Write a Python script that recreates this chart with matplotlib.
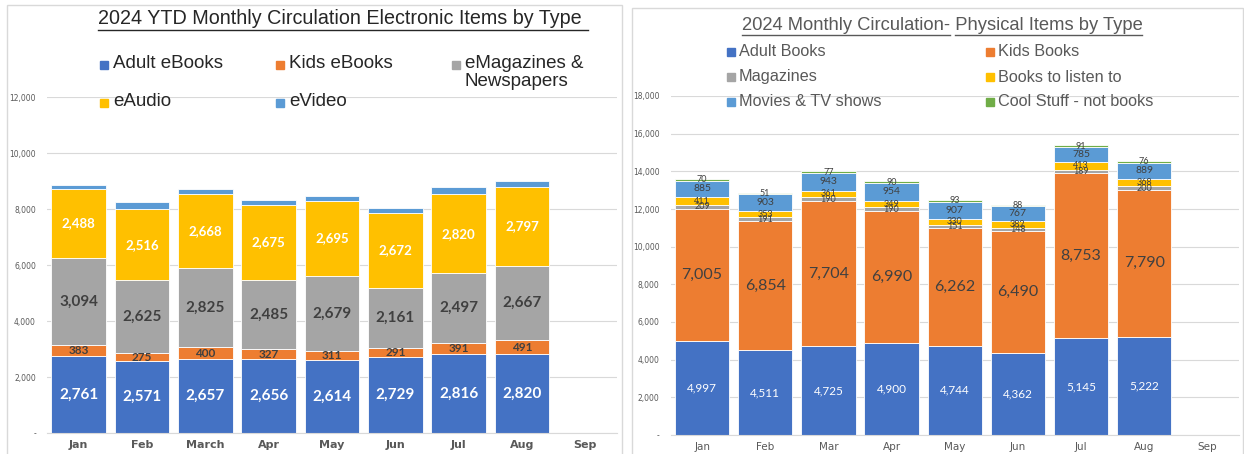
import matplotlib.pyplot as plt
import numpy as np
from matplotlib.patches import Rectangle
from matplotlib.lines import Line2D
from matplotlib.ticker import FuncFormatter

# Electronic items (left chart)
e_months = ['Jan', 'Feb', 'March', 'Apr', 'May', 'Jun', 'Jul', 'Aug', 'Sep']
adult_ebooks = [2761, 2571, 2657, 2656, 2614, 2729, 2816, 2820]
kids_ebooks = [383, 275, 400, 327, 311, 291, 391, 491]
emagazines = [3094, 2625, 2825, 2485, 2679, 2161, 2497, 2667]
eaudio = [2488, 2516, 2668, 2675, 2695, 2672, 2820, 2797]
evideo = [140, 260, 150, 190, 150, 190, 270, 240]  # estimated, not labelled

# Physical items (right chart)
p_months = ['Jan', 'Feb', 'Mar', 'Apr', 'May', 'Jun', 'Jul', 'Aug', 'Sep']
adult_books = [4997, 4511, 4725, 4900, 4744, 4362, 5145, 5222]
kids_books = [7005, 6854, 7704, 6990, 6262, 6490, 8753, 7790]
magazines = [209, 191, 190, 190, 151, 148, 189, 200]
books_listen = [411, 353, 361, 349, 330, 382, 413, 368]
movies_tv = [885, 903, 943, 954, 907, 767, 785, 889]
cool_stuff = [70, 51, 77, 90, 93, 88, 91, 76]

BLUE, ORANGE, GRAY, GOLD, LBLUE, GREEN = '#4472C4', '#ED7D31', '#A5A5A5', '#FFC000', '#5B9BD5', '#70AD47'
DARK = '#404040'
W, H = 1244, 454

fig = plt.figure(figsize=(W / 100, H / 100), dpi=100)
fig.patch.set_facecolor('white')


def px(x0, y0, x1, y1):
    # pixel box (top-left origin) -> figure fraction rect
    return [x0 / W, 1 - y1 / H, (x1 - x0) / W, (y1 - y0) / H]


# panel frames
for x0, y0, x1, y1 in [(7, 5, 622, 460), (632, 8, 1243, 460)]:
    fig.patches.append(Rectangle((x0 / W, 1 - y1 / H), (x1 - x0) / W, (y1 - y0) / H,
                                 transform=fig.transFigure, fill=False,
                                 edgecolor='#D9D9D9', linewidth=1))

yfmt = FuncFormatter(lambda v, p: '-' if v == 0 else f'{v:,.0f}')


def style_axes(ax, ymax, step, xlab_kw):
    ax.set_ylim(0, ymax)
    ax.set_xlim(-0.5, 8.5)
    ax.set_yticks(np.arange(0, ymax + 1, step))
    ax.yaxis.set_major_formatter(yfmt)
    ax.grid(axis='y', color='#D9D9D9', linewidth=0.8)
    ax.set_axisbelow(True)
    for s in ['top', 'right', 'left']:
        ax.spines[s].set_visible(False)
    ax.spines['bottom'].set_color('#D9D9D9')
    ax.tick_params(axis='both', length=0)
    ax.tick_params(axis='y', labelsize=5.5, labelcolor='#595959', pad=8)
    ax.tick_params(axis='x', pad=5)
    for t in ax.get_xticklabels():
        t.set(**xlab_kw)


# ---- left chart ----
ax1 = fig.add_axes(px(47, 97, 617, 433))
x = np.arange(len(adult_ebooks))
series1 = [(adult_ebooks, BLUE, 'Adult eBooks'), (kids_ebooks, ORANGE, 'Kids eBooks'),
           (emagazines, GRAY, 'eMagazines &\nNewspapers'), (eaudio, GOLD, 'eAudio'),
           (evideo, LBLUE, 'eVideo')]
label1 = [dict(color='white', fontsize=11, fontweight='bold'),
          dict(color=DARK, fontsize=8.5, fontweight='bold'),
          dict(color=DARK, fontsize=11, fontweight='bold'),
          dict(color='white', fontsize=9.5, fontweight='bold'),
          None]
bottom = np.zeros(len(x))
for (vals, col, name), lk in zip(series1, label1):
    bars = ax1.bar(x, vals, 0.86, bottom=bottom, color=col, edgecolor='white', linewidth=0.6)
    if lk:
        ax1.bar_label(bars, fmt='{:,.0f}', label_type='center', family='Lato', **lk)
    bottom += np.array(vals)
ax1.set_xticks(np.arange(9))
ax1.set_xticklabels(e_months)
style_axes(ax1, 12000, 2000, dict(fontsize=8, fontweight='bold', color='#595959'))

# left legend (placed manually, row-major like the source)
leg1_pos = [(104, 65), (280, 65), (456, 65), (104, 103), (280, 103)]
for (vals, col, name), (lx, ly) in zip(series1, leg1_pos):
    fig.patches.append(Rectangle(((lx - 4) / W, 1 - (ly + 4) / H), 8 / W, 8 / H,
                                 transform=fig.transFigure, color=col))
    fig.text((lx + 9) / W, 1 - (ly - 10) / H, name, fontsize=13.5, color='#262626',
             family='Liberation Sans', va='top', ha='left', linespacing=1.1)

# ---- right chart ----
ax2 = fig.add_axes(px(670.5, 96, 1239, 435))
series2 = [(adult_books, BLUE, 'Adult Books'), (kids_books, ORANGE, 'Kids Books'),
           (magazines, GRAY, 'Magazines'), (books_listen, GOLD, 'Books to listen to'),
           (movies_tv, LBLUE, 'Movies & TV shows'), (cool_stuff, GREEN, 'Cool Stuff - not books')]
label2 = [dict(color='white', fontsize=8.5), dict(color=DARK, fontsize=11.5),
          dict(color=DARK, fontsize=6.5), dict(color=DARK, fontsize=6.5),
          dict(color=DARK, fontsize=7.5), dict(color=DARK, fontsize=6.5)]
bottom = np.zeros(len(x))
for (vals, col, name), lk in zip(series2, label2):
    bars = ax2.bar(x, vals, 0.86, bottom=bottom, color=col, edgecolor='white', linewidth=0.6)
    ax2.bar_label(bars, fmt='{:,.0f}', label_type='center', family='Lato', **lk)
    bottom += np.array(vals)
ax2.set_xticks(np.arange(9))
ax2.set_xticklabels(p_months)
style_axes(ax2, 18000, 2000, dict(fontsize=7.5, color='#595959'))

leg2_pos = [(731, 52), (990, 52), (731, 77), (990, 77), (731, 102), (990, 102)]
for (vals, col, name), (lx, ly) in zip(series2, leg2_pos):
    fig.patches.append(Rectangle(((lx - 4) / W, 1 - (ly + 4) / H), 8 / W, 8 / H,
                                 transform=fig.transFigure, color=col))
    fig.text((lx + 8) / W, 1 - ly / H, name, fontsize=11.7, color='#595959',
             family='Liberation Sans', va='center', ha='left')

# ---- titles with underline ----
t1 = fig.text(340 / W, 1 - 19 / H, '2024 YTD Monthly Circulation Electronic Items by Type',
              fontsize=14.2, color='#262626', family='Liberation Sans', ha='center', va='center')
t2_full = '2024 Monthly Circulation- Physical Items by Type'
t2 = fig.text(942 / W, 1 - 25 / H, t2_full, fontsize=13.2, color='#595959',
              family='Liberation Sans', ha='center', va='center')

fig.canvas.draw()
r = fig.canvas.get_renderer()


def underline(t, x0, x1, col):
    bb = t.get_window_extent(r)
    y = bb.y0 - 1
    fig.add_artist(Line2D([x0 / W, x1 / W], [y / H, y / H], transform=fig.transFigure,
                          color=col, linewidth=1))


bb1 = t1.get_window_extent(r)
underline(t1, bb1.x0, bb1.x1 + 6, '#262626')

bb2 = t2.get_window_extent(r)
tmp = fig.text(0, 0, '2024 Monthly Circulation-', fontsize=13.2, family='Liberation Sans')
w_a = tmp.get_window_extent(r).width
tmp.set_text('2024 Monthly Circulation- P')
w_b = tmp.get_window_extent(r).width
tmp.set_text('P')
w_p = tmp.get_window_extent(r).width
tmp.remove()
underline(t2, bb2.x0, bb2.x0 + w_a, '#595959')
underline(t2, bb2.x0 + w_b - w_p, bb2.x1, '#595959')

fig.savefig('out.png', dpi=100)
